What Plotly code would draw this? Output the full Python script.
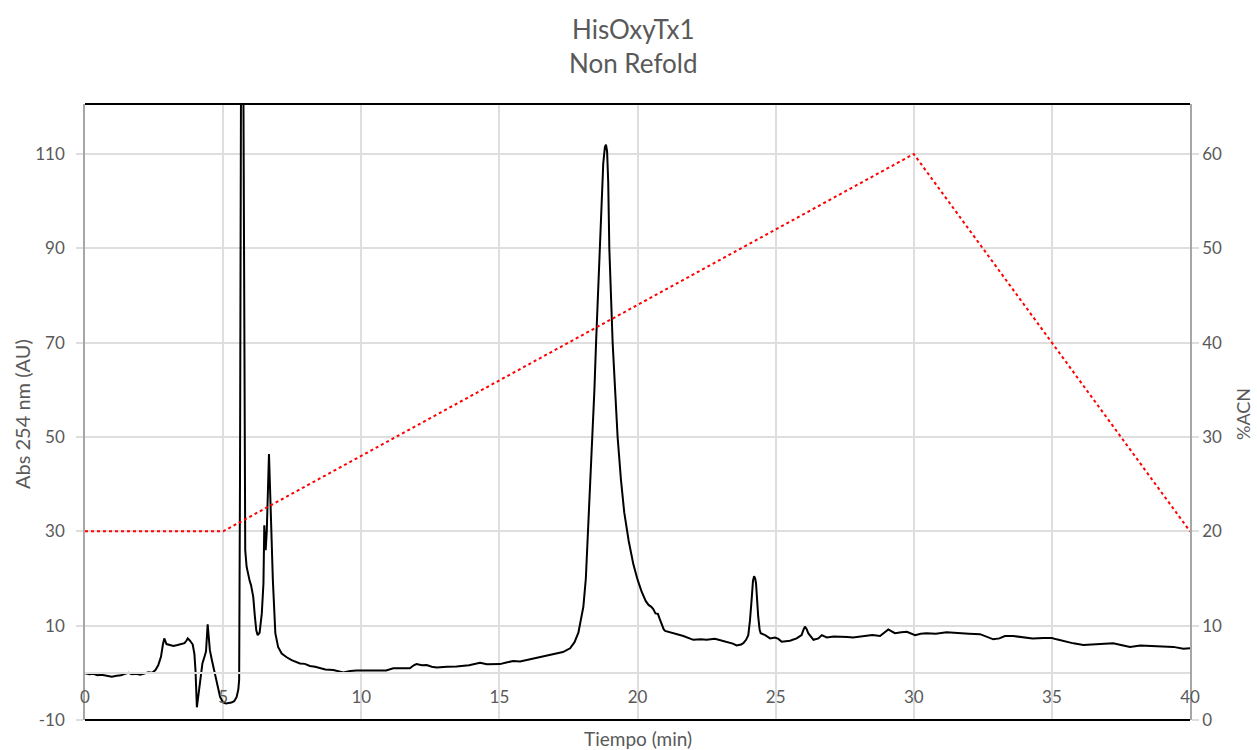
import plotly.graph_objects as go

# Chromatogram (Abs 254 nm)
time_min = [0.0, 0.15, 0.3, 0.45, 0.6, 0.8, 0.97, 1.15, 1.3, 1.45, 1.57, 1.7, 1.85, 2.0, 2.15, 2.3, 2.43,
            2.55, 2.65, 2.75, 2.82, 2.87, 2.95, 3.05, 3.2, 3.35, 3.5, 3.6, 3.67, 3.72, 3.8, 3.9, 3.96, 4.0,
            4.05, 4.1, 4.17, 4.25, 4.33, 4.38, 4.44, 4.52, 4.6, 4.7, 4.8, 4.89, 5.0, 5.1, 5.2, 5.3, 5.4,
            5.49, 5.55, 5.58, 5.61, 5.64, 5.68, 5.73, 5.77, 5.8, 5.85, 5.9, 5.96, 6.01, 6.05, 6.09, 6.15,
            6.2, 6.25, 6.32, 6.4, 6.46, 6.49, 6.52, 6.54, 6.58, 6.62, 6.66, 6.72, 6.8, 6.89, 6.99, 7.12,
            7.3, 7.48, 7.78, 7.96, 8.14, 8.33, 8.5, 8.7, 8.99, 9.2, 9.35, 9.6, 9.83, 10.2, 10.68, 10.9,
            11.16, 11.5, 11.76, 11.9, 12.0, 12.2, 12.37, 12.55, 12.73, 13.1, 13.45, 13.9, 14.3, 14.55,
            14.78, 15.02, 15.25, 15.5, 15.75, 15.99, 16.25, 16.47, 16.75, 17.07, 17.3, 17.56, 17.72,
            17.86, 17.95, 18.04, 18.13, 18.21, 18.29, 18.37, 18.44, 18.5, 18.57, 18.63, 18.7, 18.76,
            18.82, 18.86, 18.9, 18.94, 18.98, 19.04, 19.1, 19.19, 19.28, 19.4, 19.52, 19.68, 19.85, 20.0,
            20.15, 20.3, 20.4, 20.5, 20.57, 20.65, 20.74, 20.8, 20.88, 20.95, 21.0, 21.3, 21.66, 22.02,
            22.3, 22.5, 22.8, 23.0, 23.23, 23.45, 23.59, 23.75, 23.83, 23.93, 24.01, 24.07, 24.13, 24.18,
            24.22, 24.26, 24.29, 24.33, 24.37, 24.42, 24.46, 24.62, 24.8, 24.98, 25.1, 25.22, 25.52,
            25.76, 25.94, 26.0, 26.06, 26.12, 26.18, 26.37, 26.55, 26.67, 26.85, 27.1, 27.33, 27.6, 27.8,
            28.1, 28.5, 28.78, 28.95, 29.08, 29.2, 29.32, 29.55, 29.75, 30.05, 30.25, 30.46, 30.8, 31.19,
            31.6, 32.0, 32.4, 32.65, 32.88, 33.1, 33.3, 33.6, 33.97, 34.3, 34.7, 35.0, 35.17, 35.5, 35.78,
            36.14, 36.6, 37.0, 37.22, 37.5, 37.83, 38.2, 38.67, 39.0, 39.4, 39.76, 40.0]
abs_254 = [-0.1, -0.3, -0.2, -0.5, -0.4, -0.7, -0.8, -0.6, -0.5, -0.2, 0.0, -0.3, -0.2, -0.4, -0.1, 0.1, 0.0,
           0.6, 1.6, 3.4, 6.0, 7.3, 6.1, 6.0, 5.7, 5.9, 6.2, 6.3, 6.8, 7.3, 6.8, 6.0, 4.0, 0.5,
           -7.3, -5.0, -1.5, 2.0, 3.5, 4.5, 10.3, 4.8, 2.5, -0.1, -3.0, -5.1, -6.3, -6.5, -6.4, -6.3, -6.0,
           -5.1, -3.5, -1.5, 40, 130, 200, 130, 60, 26, 22.5, 21, 19.5, 18.6, 17.5, 16.1, 11.9,
           9.0, 8.0, 8.5, 12.6, 19.0, 31.3, 28, 26, 30, 40, 46.4, 35, 19.7, 8.4, 5.5, 4.1,
           3.3, 2.7, 2.0, 1.9, 1.45, 1.3, 0.95, 0.7, 0.6, 0.3, 0.1, 0.4, 0.5, 0.5, 0.6, 0.5,
           0.95, 0.9, 0.95, 1.6, 1.85, 1.6, 1.65, 1.3, 1.15, 1.3, 1.35, 1.6, 2.15, 1.8,
           1.85, 1.85, 2.2, 2.5, 2.4, 2.7, 3.0, 3.4, 3.6, 4.0, 4.4, 5.2, 6.5,
           8.5, 11, 14, 20, 30, 40, 50, 60, 70, 80, 90, 100, 108,
           111.5, 112, 110.5, 104, 90, 80, 70, 60, 50, 41, 34, 28, 23, 19.8,
           17.2, 15.2, 14.4, 14.0, 13.5, 12.6, 12.5, 11.5, 10.0, 9.2, 8.9, 8.4, 7.8, 7.0,
           7.1, 7.0, 7.2, 6.9, 6.6, 6.2, 5.8, 6.0, 6.3, 7.0, 8.0, 11, 15.4, 19.5,
           20.5, 20, 19, 15, 11.9, 9.2, 8.4, 8.0, 7.3, 7.5, 7.2, 6.6, 6.8,
           7.3, 8.0, 9.0, 9.8, 9.3, 8.4, 7.0, 7.3, 8.0, 7.5, 7.7, 7.7, 7.6, 7.5,
           7.7, 8.0, 7.8, 8.6, 9.2, 8.8, 8.4, 8.6, 8.7, 8.0, 8.3, 8.4, 8.3, 8.6,
           8.4, 8.3, 8.2, 7.6, 7.1, 7.3, 7.8, 7.8, 7.5, 7.3, 7.4, 7.4, 7.1, 6.6, 6.25,
           5.9, 6.1, 6.2, 6.25, 5.9, 5.5, 5.8, 5.7, 5.6, 5.5, 5.1, 5.2]

# Gradient (%ACN)
grad_time = [0, 5, 30, 40]
grad_acn = [20, 20, 60, 20]

# Axes
x_ticks = [0, 5, 10, 15, 20, 25, 30, 35, 40]
y_ticks = [-10, 10, 30, 50, 70, 90, 110]
y_tick_text = ["-10", "10", "30", "50", "70", "90", "110"]
y2_ticks = [0, 10, 20, 30, 40, 50, 60]
Y_RANGE = [-10, 120.6]
Y2_RANGE = [0, 65.3]

TXT = "#595959"
GRID = "#DEDEDE"
AXL = "#A6A6A6"
FONT = "Lato"

fig = go.Figure()
fig.add_trace(go.Scatter(x=time_min, y=abs_254, mode="lines",
                         line=dict(color="black", width=2), yaxis="y", showlegend=False))
fig.add_trace(go.Scatter(x=grad_time, y=grad_acn, mode="lines",
                         line=dict(color="#FF0000", width=2, dash="dot"), yaxis="y2", showlegend=False))

zero_pos = (0 - Y_RANGE[0]) / (Y_RANGE[1] - Y_RANGE[0])

fig.update_layout(
    width=1257, height=750,
    margin=dict(l=85, r=67, t=104, b=30),
    paper_bgcolor="white", plot_bgcolor="white",
    font=dict(family=FONT, color=TXT, size=17),
    xaxis=dict(range=[0, 40], tickvals=x_ticks, ticktext=[str(v) for v in x_ticks],
               showgrid=True, gridcolor=GRID, gridwidth=1.5, zeroline=False,
               anchor="free", position=zero_pos, showline=True, linecolor=GRID, linewidth=1.5,
               ticks="", ticklabelstandoff=9, tickfont=dict(size=17, color=TXT, family=FONT)),
    yaxis=dict(range=Y_RANGE, tickvals=y_ticks, ticktext=y_tick_text, showgrid=True, gridcolor=GRID,
               gridwidth=1.5, zeroline=False, showline=True, linecolor=AXL, linewidth=1.5,
               ticks="outside", ticklen=7, tickcolor=GRID, tickwidth=1.5, ticklabelstandoff=8,
               tickfont=dict(size=17, color=TXT, family=FONT)),
    yaxis2=dict(range=Y2_RANGE, tickvals=y2_ticks, overlaying="y", side="right", anchor="x",
                showgrid=False, zeroline=False, showline=True, linecolor=AXL, linewidth=1.5,
                ticks="outside", ticklen=7, tickcolor=GRID, tickwidth=1.5,
                tickfont=dict(size=17, color=TXT, family=FONT)),
    shapes=[
        dict(type="line", xref="paper", yref="paper", x0=0, x1=1, y0=1, y1=1,
             line=dict(color="black", width=2)),
        dict(type="line", xref="paper", yref="paper", x0=0, x1=1, y0=0, y1=0,
             line=dict(color="black", width=2)),
    ],
    annotations=[
        dict(text="HisOxyTx1<br>Non Refold", xref="paper", yref="paper", x=0.496, y=1 + (104 - 46) / 616,
             xanchor="center", yanchor="middle", showarrow=False,
             font=dict(size=26, color=TXT, family=FONT)),
        dict(text="Tiempo (min)", xref="paper", yref="paper", x=0.5, y=-(738 - 720) / 616,
             xanchor="center", yanchor="middle", showarrow=False,
             font=dict(size=19, color=TXT, family=FONT)),
        dict(text="Abs 254 nm (AU)", xref="paper", yref="paper", x=-(85 - 22) / 1105, y=(720 - 414) / 616,
             xanchor="center", yanchor="middle", showarrow=False, textangle=-90,
             font=dict(size=20, color=TXT, family=FONT)),
        dict(text="%ACN", xref="paper", yref="paper", x=1 + (1243 - 1190) / 1105, y=(720 - 414) / 616,
             xanchor="center", yanchor="middle", showarrow=False, textangle=-90,
             font=dict(size=18, color=TXT, family=FONT)),
    ],
)

fig.write_html("out.html")
